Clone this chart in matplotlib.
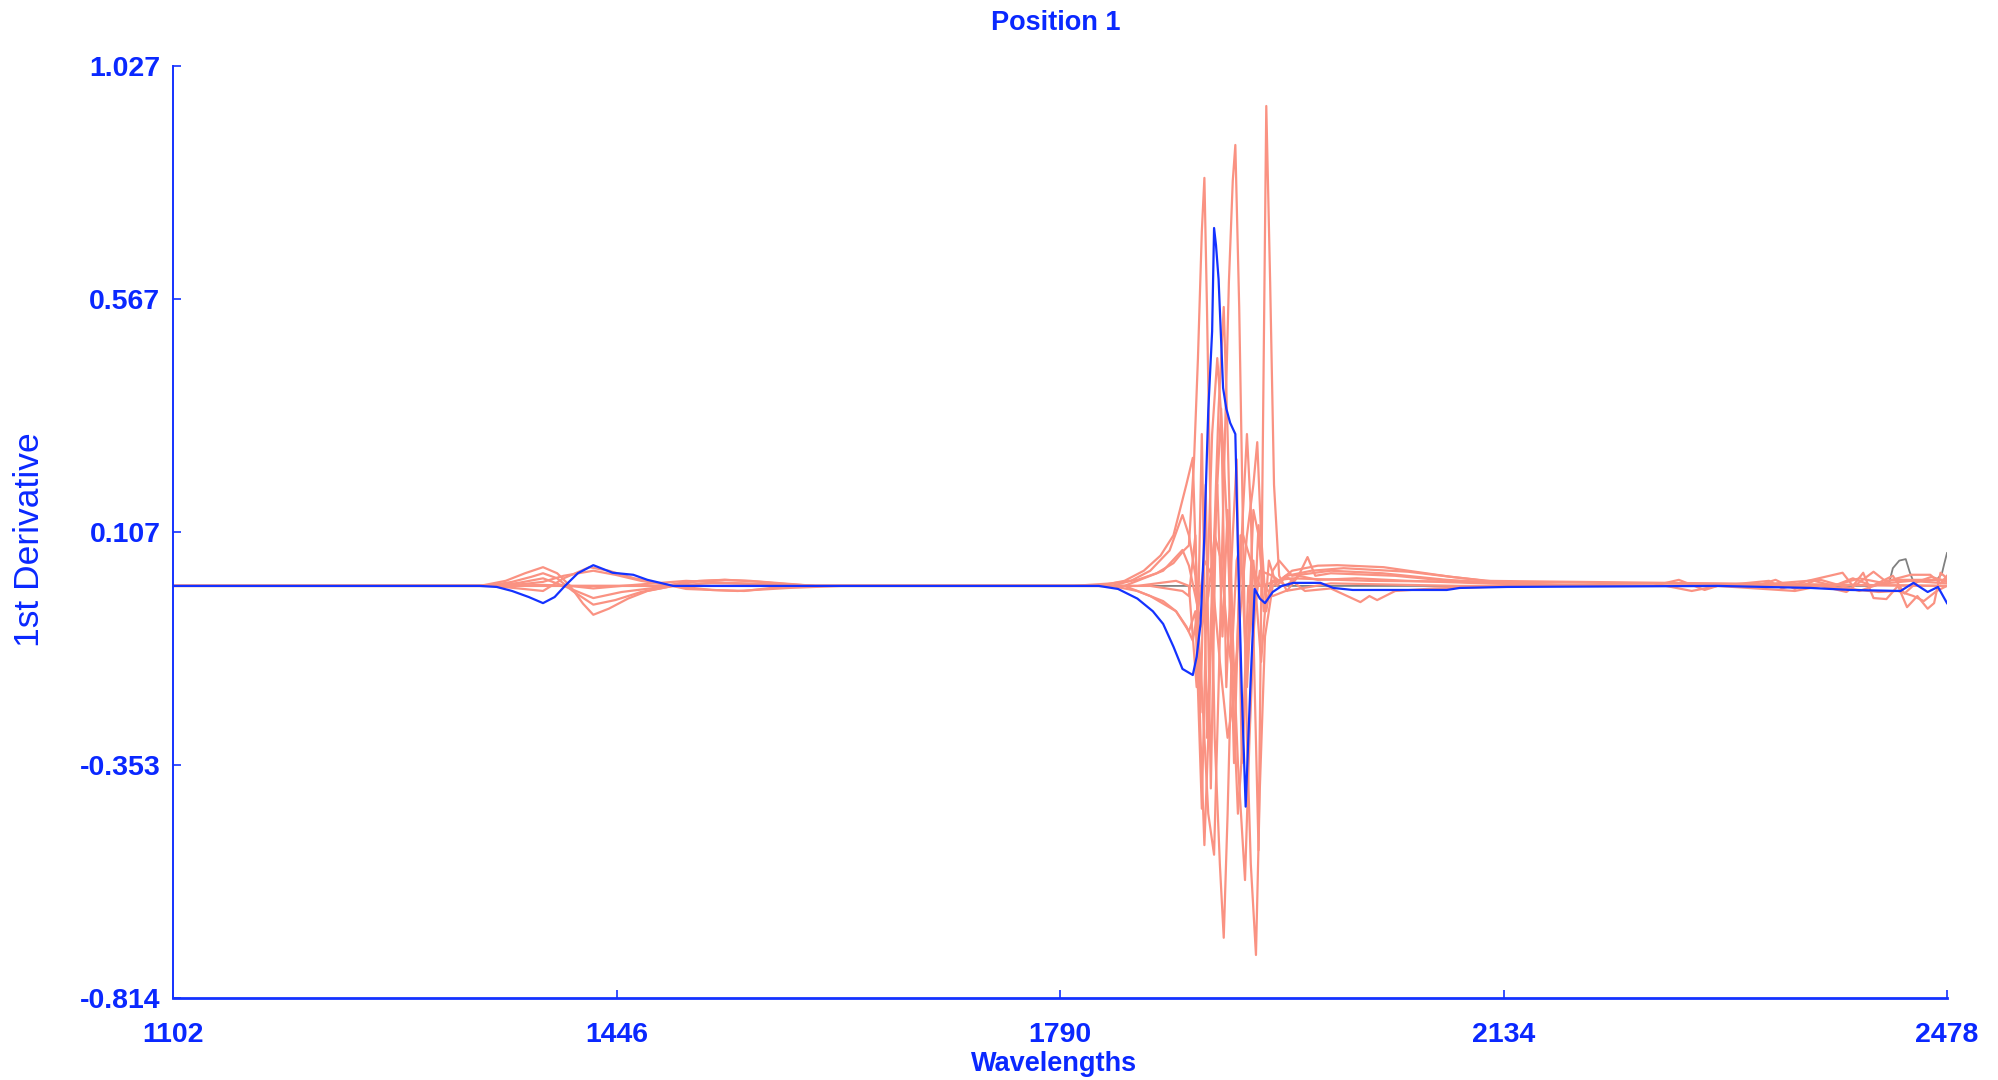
import matplotlib
matplotlib.use("Agg")
import matplotlib.pyplot as plt

plt.rcParams['font.family'] = ['Liberation Sans', 'DejaVu Sans']

# ---------------- data ----------------
x_ticks = [1102, 1446, 1790, 2134, 2478]
y_ticks = [1.027, 0.567, 0.107, -0.353, -0.814]
y_tick_labels = ["1.027", "0.567", "0.107", "-0.353", "-0.814"]

blue_wl = [1102, 1340, 1353, 1365, 1378, 1389, 1398, 1406, 1416, 1428,
           1443, 1459, 1470, 1490, 1600, 1780, 1820, 1835, 1850, 1862,
           1870, 1878, 1885, 1893, 1896, 1899, 1902, 1905, 1908, 1909.5,
           1911, 1913, 1916.5, 1919, 1922, 1926, 1928, 1931, 1934, 1937.5,
           1941, 1945, 1949, 1955, 1962, 1971, 1992, 2002, 2017, 2090,
           2100, 2137, 2300, 2372, 2403, 2442, 2452, 2463, 2471, 2478]
blue_val = [0.0, 0.0, -0.002, -0.010, -0.022, -0.034, -0.022, 0.0, 0.025, 0.041,
            0.026, 0.022, 0.012, 0.0, 0.0, 0.0, 0.0, -0.006, -0.025, -0.05,
            -0.075, -0.12, -0.164, -0.176, -0.14, -0.075, 0.10, 0.346, 0.503, 0.707,
            0.673, 0.606, 0.391, 0.35, 0.322, 0.300, 0.073, -0.209, -0.436, -0.209,
            -0.006, -0.025, -0.034, -0.012, 0.0, 0.006, 0.006, -0.004, -0.008, -0.008,
            -0.004, -0.002, 0.0, -0.004, -0.008, -0.010, 0.006, -0.012, -0.002, -0.034]

gray_wl = [1102, 2420, 2433, 2436, 2441, 2446, 2449, 2452, 2460, 2470, 2474, 2476, 2478]
gray_val = [0.0, 0.0, 0.005, 0.035, 0.05, 0.053, 0.028, 0.008, 0.01, 0.012, 0.024, 0.045, 0.065]

r1_wl = [1102, 1340, 1360, 1375, 1389, 1400, 1410, 1420, 1428, 1440,
         1455, 1470, 1490, 1510, 1530, 1550, 1570, 1600, 1800, 1830,
         1850, 1865, 1878, 1886, 1890, 1894, 1897, 1900, 1902, 1904,
         1907, 1910, 1914, 1917, 1920, 1923, 1927, 1932, 1938, 1945,
         1960, 1970, 1990, 2005, 2041, 2093, 2140, 2200, 2300, 2340,
         2350, 2370, 2397, 2405, 2413, 2421, 2431, 2440, 2447, 2455,
         2463, 2468, 2473, 2478]
r1_val = [0.0, 0.0, 0.01, 0.025, 0.037, 0.025, 0.0, -0.035, -0.057, -0.045,
          -0.025, -0.01, 0.0, 0.01, 0.012, 0.01, 0.005, 0.0, 0.0, 0.005,
          0.012, 0.025, 0.045, 0.07, 0.08, 0.25, 0.45, 0.70, 0.806, 0.55,
          0.1, -0.3, -0.55, -0.695, -0.45, -0.15, 0.05, 0.1, 0.05, 0.0,
          0.01, 0.03, 0.04, 0.041, 0.037, 0.018, 0.005, 0.0, 0.0, 0.01,
          -0.005, 0.01, 0.026, 0.0, 0.026, -0.024, -0.026, 0.0, -0.042, -0.02,
          -0.045, -0.034, 0.026, 0.015]

r2_wl = [1102, 1345, 1365, 1380, 1389, 1400, 1412, 1428, 1445, 1465,
         1490, 1520, 1545, 1580, 1620, 1820, 1840, 1855, 1868, 1878,
         1888, 1893, 1896, 1899, 1902, 1905, 1909, 1913, 1917, 1920,
         1924, 1928, 1933.5, 1937, 1941, 1945, 1955, 1965, 1975, 1982,
         1988, 2000, 2050, 2100, 2160, 2250, 2270, 2290, 2300, 2360,
         2380, 2400, 2421, 2430, 2440, 2460, 2478]
r2_val = [0.0, 0.0, 0.008, 0.018, 0.025, 0.015, -0.01, -0.037, -0.028, -0.012,
          0.0, -0.008, -0.01, 0.0, 0.0, 0.0, 0.01, 0.03, 0.06, 0.1,
          0.2, 0.253, 0.0, -0.3, -0.512, -0.3, 0.05, 0.35, 0.551, 0.3,
          -0.1, -0.35, -0.581, -0.3, -0.05, 0.03, 0.02, 0.0, 0.02, 0.057,
          0.02, 0.025, 0.02, 0.008, 0.002, 0.0, 0.012, -0.008, 0.0, -0.01,
          0.0, -0.012, 0.028, 0.01, 0.012, 0.012, 0.012]

r3_wl = [1102, 1350, 1370, 1389, 1405, 1428, 1450, 1475, 1500, 1530,
         1560, 1600, 1830, 1845, 1860, 1875, 1885, 1890, 1895, 1900,
         1905, 1909.5, 1913, 1917, 1921, 1924, 1926, 1929, 1932, 1935,
         1938, 1942, 1945, 1949, 1955, 1965, 1980, 2000, 2023, 2030,
         2036, 2050, 2080, 2150, 2320, 2380, 2410, 2435, 2450, 2465,
         2473, 2478]
r3_val = [0.0, 0.0, 0.006, 0.015, 0.0, -0.024, -0.012, -0.004, 0.008, 0.012,
          0.008, 0.0, 0.0, 0.01, 0.03, 0.07, 0.14, 0.10, 0.02, -0.2,
          -0.45, -0.531, -0.2, 0.2, 0.6, 0.80, 0.871, 0.55, 0.1, -0.3,
          -0.55, -0.729, -0.4, -0.1, 0.0, 0.02, -0.01, -0.005, -0.032, -0.02,
          -0.028, -0.01, -0.005, 0.0, 0.0, 0.012, -0.01, 0.012, 0.022, 0.022,
          0.005, 0.02]

r4_wl = [1102, 1355, 1375, 1389, 1405, 1428, 1445, 1465, 1490, 1520,
         1560, 1600, 1840, 1870, 1885, 1890, 1895, 1900, 1905, 1910,
         1915, 1920, 1925, 1930, 1935, 1940, 1943, 1946, 1950, 1955,
         1960, 1970, 2000, 2040, 2090, 2150, 2260, 2280, 2300, 2380,
         2425, 2440, 2452, 2460, 2470, 2478]
r4_val = [0.0, 0.0, 0.004, 0.008, 0.02, 0.03, 0.022, 0.01, 0.0, 0.006,
          0.004, 0.0, 0.0, 0.03, 0.071, 0.04, -0.02, -0.08, -0.02, 0.1,
          0.05, -0.1, -0.2, -0.05, 0.1, 0.2, 0.284, 0.1, -0.05, 0.03,
          0.05, 0.02, 0.03, 0.025, 0.012, 0.003, 0.0, -0.01, 0.0, 0.0,
          -0.012, -0.01, -0.02, -0.03, -0.01, 0.0]

r5_wl = [1102, 1350, 1370, 1389, 1405, 1425, 1440, 1460, 1480, 1500,
         1540, 1580, 1620, 1830, 1850, 1870, 1880, 1888, 1893, 1897,
         1902, 1908, 1914, 1920, 1926, 1931, 1935, 1938, 1941, 1944,
         1947, 1950, 1953, 1956, 1960, 1966, 1975, 1990, 2020, 2060,
         2120, 2200, 2330, 2345, 2360, 2375, 2390, 2410, 2430, 2450,
         2478]
r5_val = [0.0, 0.0, -0.005, -0.01, 0.015, 0.037, 0.03, 0.015, 0.005, -0.006,
          -0.01, -0.004, 0.0, 0.0, -0.01, -0.03, -0.05, -0.08, -0.108, -0.05,
          0.05, 0.02, -0.15, -0.3, -0.2, 0.1, 0.3, 0.15, -0.2, -0.522,
          0.2, 0.948, 0.6, 0.2, 0.02, -0.01, 0.02, 0.012, 0.015, 0.01,
          0.005, 0.0, 0.0, 0.012, -0.006, 0.01, 0.0, 0.015, 0.005, 0.01,
          0.005]

r6_wl = [1102, 1360, 1389, 1410, 1428, 1450, 1480, 1500, 1550, 1600,
         1840, 1860, 1880, 1890, 1895, 1900, 1903, 1908, 1912, 1916,
         1920, 1924, 1928, 1932, 1936, 1940, 1944, 1948, 1955, 1965,
         2000, 2100, 2390, 2405, 2420, 2436, 2445, 2455, 2466, 2478]
r6_val = [0.0, 0.0, 0.002, 0.0, -0.005, 0.0, 0.006, 0.01, 0.004, 0.0,
          0.0, -0.02, -0.05, -0.09, -0.05, -0.44, -0.1, 0.3, 0.45, 0.3,
          0.1, -0.2, -0.45, -0.3, -0.1, 0.15, 0.1, 0.0, -0.02, -0.01,
          0.005, 0.0, 0.0, 0.015, 0.0, 0.02, -0.015, 0.008, 0.018, 0.008]

r7_wl = [1102, 1850, 1880, 1890, 1896, 1900, 1904, 1908, 1912, 1916,
         1920, 1925, 1930, 1935, 1940, 1946, 1952, 1958, 1966, 1985,
         2010, 2060, 2120, 2478]
r7_val = [0.0, 0.0, 0.01, 0.0, -0.2, 0.3, -0.3, 0.0, 0.2, -0.1,
          0.15, -0.35, 0.1, -0.2, 0.05, -0.15, 0.05, 0.0, 0.02, 0.03,
          0.035, 0.028, 0.01, 0.0]

r8_wl = [1102, 1860, 1885, 1890, 1895, 1899, 1903, 1907, 1911, 1915,
         1919, 1923, 1927, 1931, 1936, 1940, 1944, 1948, 1955, 1970,
         2030, 2478]
r8_val = [0.0, 0.0, -0.01, -0.02, 0.1, -0.25, 0.2, -0.4, 0.15, 0.35,
          -0.2, 0.05, 0.25, -0.35, 0.0, -0.1, 0.12, -0.05, 0.01, 0.015,
          0.01, 0.0]

red_series = [(r1_wl, r1_val), (r2_wl, r2_val), (r3_wl, r3_val), (r4_wl, r4_val),
              (r5_wl, r5_val), (r6_wl, r6_val), (r7_wl, r7_val), (r8_wl, r8_val)]

# ---------------- styling ----------------
TXT_BLUE = '#0A28FF'
LINE_BLUE = '#1432FF'
SALMON = '#FA9282'
GRAY = '#808080'

fig = plt.figure(figsize=(19.98, 10.8), dpi=100)
ax = fig.add_axes([173/1998, 1-998/1080, (1947-173)/1998, (998-66)/1080])

ax.plot(gray_wl, gray_val, color=GRAY, lw=1.3, zorder=1)
for wl, val in red_series:
    ax.plot(wl, val, color=SALMON, lw=1.6, zorder=2)
ax.plot(blue_wl, blue_val, color=LINE_BLUE, lw=1.6, zorder=3)

ax.set_xlim(1102, 2478)
ax.set_ylim(-0.814, 1.027)

for s in ['top', 'right']:
    ax.spines[s].set_visible(False)
ax.spines['left'].set_color(LINE_BLUE)
ax.spines['bottom'].set_color(LINE_BLUE)
ax.spines['left'].set_linewidth(1.4)
ax.spines['bottom'].set_linewidth(2.0)

ax.set_xticks(x_ticks, labels=[str(v) for v in x_ticks], fontweight='bold')
ax.set_yticks(y_ticks, labels=y_tick_labels, fontweight='bold')
ax.tick_params(axis='both', direction='in', length=6, width=1.2,
               color=LINE_BLUE, labelcolor=TXT_BLUE, labelsize=20.5)
ax.tick_params(axis='x', pad=17)
ax.tick_params(axis='y', pad=9)

fig.text(1056/1998, 1-30/1080, 'Position 1', ha='center', va='baseline',
         fontsize=19.5, fontweight='bold', color=TXT_BLUE)
fig.text(1054/1998, 1-1071/1080, 'Wavelengths', ha='center', va='baseline',
         fontsize=19.5, fontweight='bold', color=TXT_BLUE)
fig.text(30/1998, 1-540/1080, '1st Derivative', ha='center', va='center',
         rotation=90, fontsize=25.5, color=TXT_BLUE)

fig.savefig('out.png', dpi=100, facecolor='white')
